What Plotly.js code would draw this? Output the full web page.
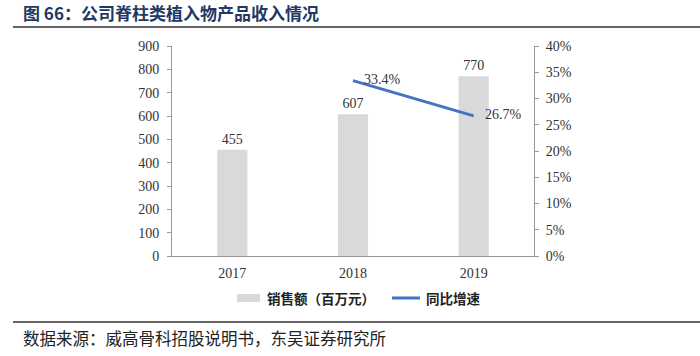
<!DOCTYPE html>
<html><head><meta charset="utf-8">
<script src="https://cdn.plot.ly/plotly-3.0.1.min.js"></script>
<style>body{margin:0;background:#fff}#c{width:700px;height:356px}</style>
</head><body><div id="c"></div>
<script>
const years = ['2017','2018','2019'];
const sales = [455, 607, 770];
const growthYears = ['2018','2019'];
const growth = [33.4, 26.7];
const growthLabels = ['33.4%','26.7%'];
const leftTicks = [0,100,200,300,400,500,600,700,800,900];
const rightTicks = [0,5,10,15,20,25,30,35,40];
const legendNames = ['销售额（百万元）','同比增速'];

const serif = 'Liberation Serif, Times New Roman, serif';
const cjk = 'Noto Sans CJK SC, sans-serif';
const tf = {family:serif, size:14, color:'#333'};

// pixel -> paper helpers (plot area: x 172..534, y 46..256)
const px = p => (p-172)/362;
const py = p => (256-p)/210;

const traces = [
  {type:'bar', x:years, y:sales, name:legendNames[0], marker:{color:'#d9d9d9'}, width:0.25,
   text:sales.map(String), textposition:'outside', cliponaxis:false, textfont:tf},
  {type:'scatter', mode:'lines', x:growthYears, y:growth, yaxis:'y2', name:legendNames[1],
   line:{color:'#4472c4', width:3}}
];

const annotations = [
  {xref:'paper', yref:'paper', x:px(21), y:py(13), xanchor:'left', yanchor:'middle', showarrow:false,
   text:'<b>图 66：公司脊柱类植入物产品收入情况</b>', font:{family:cjk, size:17, color:'#1f3864'}},
  {xref:'paper', yref:'paper', x:px(21), y:py(338), xanchor:'left', yanchor:'middle', showarrow:false,
   text:'数据来源：威高骨科招股说明书，东吴证券研究所', font:{family:cjk, size:16.5, color:'#222'}},
  {xref:'paper', yref:'paper', x:px(265), y:py(298), xanchor:'left', yanchor:'middle', showarrow:false,
   text:'<b>'+legendNames[0]+'</b>', font:{family:cjk, size:13.5, color:'#222'}},
  {xref:'paper', yref:'paper', x:px(424), y:py(298), xanchor:'left', yanchor:'middle', showarrow:false,
   text:'<b>'+legendNames[1]+'</b>', font:{family:cjk, size:13.5, color:'#222'}}
];
growthYears.forEach((yr,i)=>{
  annotations.push({xref:'x', yref:'y2', x:years.indexOf(yr), y:growth[i], xanchor:'left', yanchor:'middle',
    xshift:9, yshift:1, showarrow:false, text:growthLabels[i], font:tf});
});

const layout = {
  width:700, height:356,
  margin:{l:172, r:166, t:46, b:100},
  paper_bgcolor:'#fff', plot_bgcolor:'#fff',
  showlegend:false,
  bargap:0.75,
  xaxis:{type:'category', categoryarray:years, range:[-0.5,2.5], showline:true, linecolor:'#999', ticks:'', showgrid:false,
    tickfont:tf, ticklabelstandoff:4},
  yaxis:{range:[0,900], tickvals:leftTicks, showline:true, linecolor:'#999', ticks:'outside',
    ticklen:4, tickcolor:'#999', showgrid:false, zeroline:false, tickfont:tf, ticklabelstandoff:5},
  yaxis2:{overlaying:'y', side:'right', range:[0,40], tickvals:rightTicks,
    ticktext:rightTicks.map(v=>v+'%'), showline:true, linecolor:'#999', ticks:'outside',
    ticklen:4, tickcolor:'#999', showgrid:false, zeroline:false, tickfont:tf, ticklabelstandoff:4},
  annotations:annotations,
  shapes:[
    {type:'line', xref:'paper', yref:'paper', x0:px(13), x1:px(700), y0:py(27), y1:py(27), line:{color:'#333', width:1.5}},
    {type:'line', xref:'paper', yref:'paper', x0:px(13), x1:px(700), y0:py(322), y1:py(322), line:{color:'#333', width:1.5}},
    {type:'rect', xref:'paper', yref:'paper', x0:px(237), x1:px(260), y0:py(302), y1:py(294), fillcolor:'#d9d9d9', line:{width:0}},
    {type:'line', xref:'paper', yref:'paper', x0:px(392), x1:px(420), y0:py(298), y1:py(298), line:{color:'#4472c4', width:3}}
  ]
};
Plotly.newPlot('c', traces, layout, {displayModeBar:false, staticPlot:true});
</script></body></html>
